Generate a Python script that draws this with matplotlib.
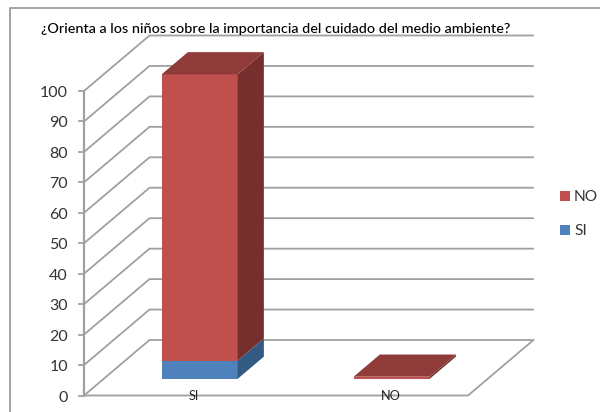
import matplotlib
matplotlib.use("Agg")
from matplotlib import pyplot as plt
from matplotlib.patches import Polygon, Rectangle

plt.rcParams['font.family'] = ['Lato', 'DejaVu Sans']

# Data
title = "¿Orienta a los niños sobre la importancia del cuidado del medio ambiente?"
categories = ["SI", "NO"]
si_values = [6, 0]
no_values = [94, 0.7]
y_ticks = [0, 10, 20, 30, 40, 50, 60, 70, 80, 90, 100]

# Oblique projection of the 3D chart, in image pixels
x0, y0 = 84, 395.5
px_per_unit = 3.045
cat_width = 192
depth_dx, depth_dy = 65.5, -55.5
wall_right = 533 - depth_dx

bar_width = 0.396
depth_front, depth_back = 0.3, 0.7

grid_color = '#a0a0a0'
red = ('#c0504d', '#8f3b39', '#772f2d')
blue = ('#4f81bd', '#3c6494', '#325a82')


def project(cat, value, depth):
    # cat in category units, value in chart units, depth from 0 to 1
    return (x0 + cat * cat_width + depth * depth_dx,
            y0 - value * px_per_unit + depth * depth_dy)


def draw_segment(ax, i, bottom, height, colors, draw_top):
    left, right = i + 0.5 - bar_width / 2, i + 0.5 + bar_width / 2
    top = bottom + height
    # front face
    ax.add_patch(Polygon([project(left, bottom, depth_front), project(right, bottom, depth_front),
                          project(right, top, depth_front), project(left, top, depth_front)],
                         fc=colors[0], ec='none', zorder=3))
    # side face
    ax.add_patch(Polygon([project(right, bottom, depth_front), project(right, bottom, depth_back),
                          project(right, top, depth_back), project(right, top, depth_front)],
                         fc=colors[2], ec='none', zorder=3))
    if draw_top:
        ax.add_patch(Polygon([project(left, top, depth_front), project(right, top, depth_front),
                              project(right, top, depth_back), project(left, top, depth_back)],
                             fc=colors[1], ec='none', zorder=3))


fig = plt.figure(figsize=(6, 4.12), dpi=100)
ax = fig.add_axes([0, 0, 1, 1])
ax.set_xlim(0, 600)
ax.set_ylim(412, 0)
ax.axis('off')

# image frame
ax.plot([10, 10, 600], [412, 8, 8], color='#9c9c9c', lw=1.3, zorder=1)

# walls and gridlines
n_cat = len(categories)
wall_cat = (wall_right - x0) / cat_width
for v in y_ticks:
    pts = [project(0, v, 0), project(0, v, 1), project(wall_cat, v, 1)]
    ax.plot([p[0] for p in pts], [p[1] for p in pts], color=grid_color, lw=1.3, zorder=2)
    tick = project(0, v, 0)
    ax.plot([tick[0] - 5, tick[0]], [tick[1], tick[1]], color=grid_color, lw=1.3, zorder=2)
    ax.text(68, tick[1] + 2, str(v), ha='right', va='center',
            fontsize=11.5, color='#333333', zorder=5)

# floor and vertical axis
floor = [project(0, 0, 0), project(n_cat, 0, 0), project(n_cat, 0, 1)]
ax.plot([p[0] for p in floor], [p[1] for p in floor], color=grid_color, lw=1.3, zorder=2)
axis_pts = [project(0, 0, 0), project(0, 100, 0)]
ax.plot([p[0] for p in axis_pts], [p[1] for p in axis_pts], color=grid_color, lw=1.6, zorder=2)

# stacked bars
for i in range(n_cat):
    draw_segment(ax, i, 0, si_values[i], blue, no_values[i] == 0)
    draw_segment(ax, i, si_values[i], no_values[i], red, True)
    lx, ly = project(i + 0.5, 0, 0)
    ax.text(lx + (14 if i == 0 else 19), ly, categories[i], ha='center', va='center',
            fontsize=9.2, color='#222222', zorder=5)

ax.text(41, 29, title, ha='left', va='center', fontsize=10.4, fontweight='medium',
        color='black', zorder=5)

# legend
for label, color, y in [("NO", red[0], 196), ("SI", blue[0], 230)]:
    ax.add_patch(Rectangle((560, y - 5), 10, 10, fc=color, ec='none', zorder=3))
    ax.text(574, y + 0.5, label, ha='left', va='center', fontsize=11.2, color='#333333', zorder=5)

fig.savefig('out.png', dpi=100)
